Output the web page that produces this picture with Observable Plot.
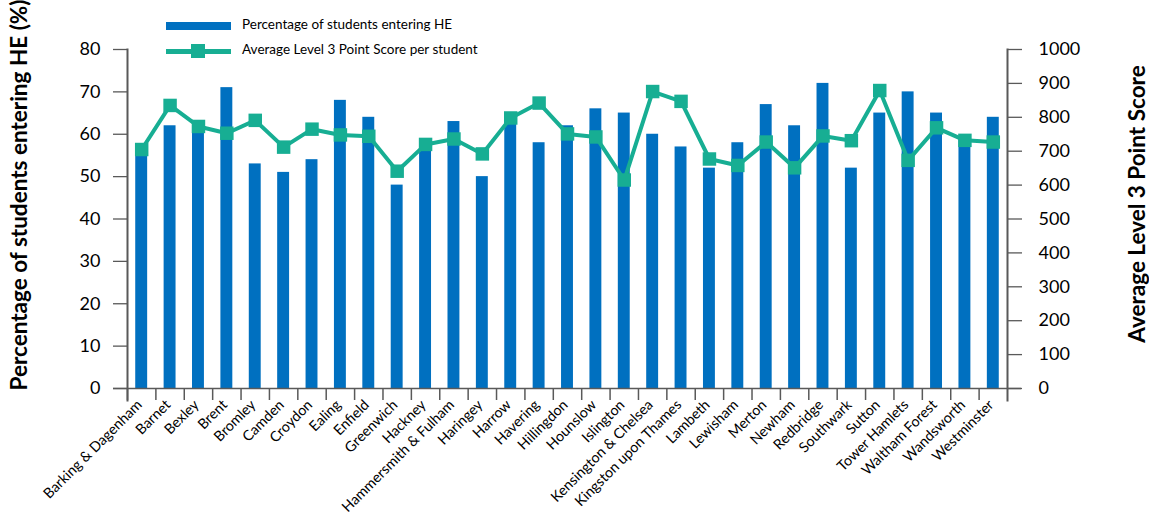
<!DOCTYPE html>
<html><head><meta charset="utf-8">
<script src="https://cdn.jsdelivr.net/npm/d3@7"></script>
<script src="https://cdn.jsdelivr.net/npm/@observablehq/plot@0.6"></script>
<style>
body{margin:0;background:#fff;font-family:Lato,"Open Sans",sans-serif;}
#wrap{position:relative;width:1149px;height:522px;overflow:hidden;}
#wrap svg{position:absolute;left:0;top:0;}
.ttl{position:absolute;white-space:nowrap;font-weight:bold;font-size:22.5px;color:#000;transform:translate(-50%,-50%) rotate(-90deg);}
.leg{position:absolute;font-size:13.5px;color:#000;white-space:nowrap;}
</style></head><body><div id="wrap"></div>
<script>
const boroughs = ["Barking & Dagenham","Barnet","Bexley","Brent","Bromley","Camden","Croydon","Ealing","Enfield","Greenwich","Hackney","Hammersmith & Fulham","Haringey","Harrow","Havering","Hillingdon","Hounslow","Islington","Kensington & Chelsea","Kingston upon Thames","Lambeth","Lewisham","Merton","Newham","Redbridge","Southwark","Sutton","Tower Hamlets","Waltham Forest","Wandsworth","Westminster"];
const pctHE = [55,62,61,71,53,51,54,68,64,48,58,63,50,63,58,62,66,65,60,57,52,58,67,62,72,52,65,70,65,59,64];
const avgScore = [705,835,773,753,791,712,765,748,744,641,720,736,692,798,842,751,742,615,876,847,677,658,727,651,745,731,879,673,769,732,727];
const leftTicks = [0,10,20,30,40,50,60,70,80];
const rightTicks = [0,100,200,300,400,500,600,700,800,900,1000];

const barColor = "#0070C0", lineColor = "#17AE93", axisColor = "#595959";
const W = 1149, H = 522, mL = 127, mR = 142, mT = 49, mB = 134;
const step = (W - mL - mR) / boroughs.length;
const ratio = 80 / 1000;
const data = boroughs.map((b, i) => ({b, pct: pctHE[i], score: avgScore[i]}));

const chart = Plot.plot({
  width: W, height: H,
  marginLeft: mL, marginRight: mR, marginTop: mT, marginBottom: mB,
  style: {fontFamily: "Lato, 'Open Sans', sans-serif", color: "#000", background: "transparent"},
  x: {domain: boroughs, paddingInner: 0.58, paddingOuter: 0.29, round: false, label: null},
  y: {domain: [0, 80], label: null},
  marks: [
    Plot.barY(data, {x: "b", y: "pct", fill: barColor}),
    Plot.ruleY([0], {stroke: axisColor, strokeWidth: 1.5, insetLeft: -14, insetRight: -14}),
    Plot.ruleX(boroughs, {x: d => d, dx: -step / 2, y1: 0, y2: 0, insetBottom: -12, stroke: axisColor, strokeWidth: 1.5}),
    Plot.frame({anchor: "left", insetBottom: -12, stroke: axisColor, strokeWidth: 2}),
    Plot.frame({anchor: "right", insetBottom: -12, stroke: axisColor, strokeWidth: 2}),
    Plot.axisY({anchor: "left", ticks: leftTicks, tickSize: 14, tickPadding: 13, fontSize: 18, stroke: axisColor, strokeWidth: 1.3, label: null}),
    Plot.axisY({anchor: "right", ticks: rightTicks.map(v => v * ratio), tickFormat: v => String(Math.round(v / ratio)), tickSize: 14, tickPadding: 17, fontSize: 18, stroke: axisColor, strokeWidth: 1.3, label: null}),
    Plot.axisX({tickRotate: -45, tickSize: 0, tickPadding: 12, dx: -2, dy: 2, fontSize: 14.3, label: null}),
    Plot.line(data, {x: "b", y: d => d.score * ratio, stroke: lineColor, strokeWidth: 4}),
    Plot.dot(data, {x: "b", y: d => d.score * ratio, symbol: "square", r: 7.6, fill: lineColor, stroke: "none"})
  ]
});
const wrap = document.getElementById("wrap");
wrap.appendChild(chart);

function add(html){ wrap.insertAdjacentHTML("beforeend", html); }
add(`<div class="ttl" style="left:18px;top:195px;">Percentage of students entering HE (%)</div>`);
add(`<div class="ttl" style="left:1136px;top:204px;">Average Level 3 Point Score</div>`);
add(`<div style="position:absolute;left:166px;top:22px;width:65px;height:8px;background:${barColor}"></div>`);
add(`<div class="leg" style="left:242px;top:16px;">Percentage of students entering HE</div>`);
add(`<div style="position:absolute;left:166px;top:48.5px;width:65px;height:5px;background:${lineColor}"></div>`);
add(`<div style="position:absolute;left:191px;top:44px;width:14px;height:14px;background:${lineColor}"></div>`);
add(`<div class="leg" style="left:242px;top:41px;">Average Level 3 Point Score per student</div>`);
</script></body></html>
